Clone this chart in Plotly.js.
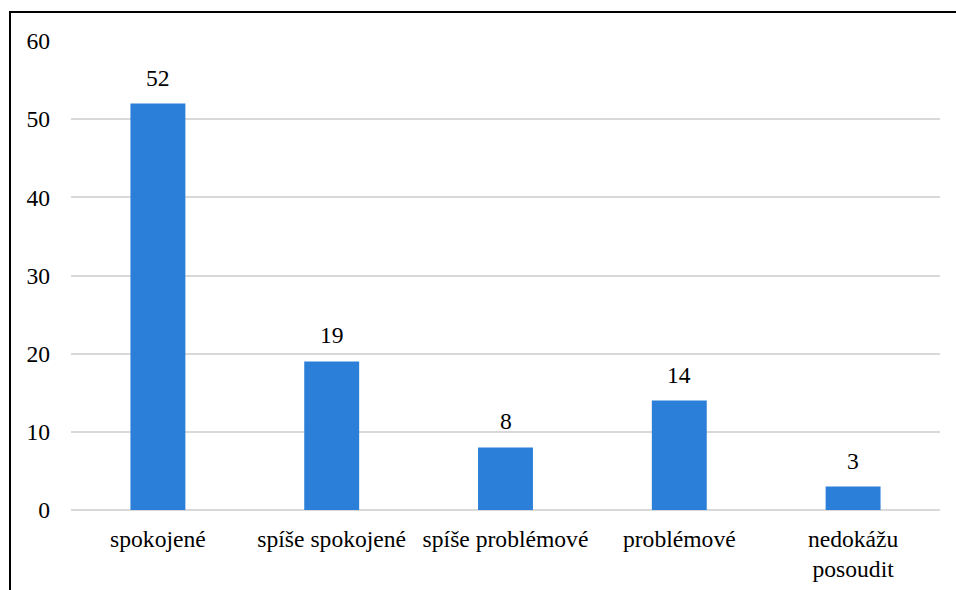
<!DOCTYPE html>
<html><head><meta charset="utf-8">
<script src="https://cdn.plot.ly/plotly-3.0.1.min.js"></script>
<style>
html,body{margin:0;padding:0;background:#fff;overflow:hidden;width:956px;height:590px}
#frame{position:absolute;left:9px;top:11px;width:945px;height:577px;border-left:2px solid #000;border-top:2px solid #000;pointer-events:none;z-index:5}
#chart{position:absolute;left:0;top:0;width:956px;height:590px}
</style></head>
<body>
<div id="chart"></div>
<div id="frame"></div>
<script>
const categories = ["spokojené", "spíše spokojené", "spíše problémové", "problémové", "nedokážu<br>posoudit"];
const values = [52, 19, 8, 14, 3];
const yTicks = [0, 10, 20, 30, 40, 50, 60];

const mkFont = () => ({family: "Liberation Serif", size: 23.6, color: "#000000"});

const annotations = categories.map((c, i) => ({
  x: c, y: values[i], text: String(values[i]), showarrow: false,
  xref: "x", yref: "y", yanchor: "bottom", yshift: 11, font: mkFont()
}));

Plotly.newPlot("chart", [{
  type: "bar", x: categories, y: values,
  marker: {color: "#2b7fd8"},
  width: 0.316, hoverinfo: "none"
}], {
  width: 956, height: 590,
  margin: {l: 71, r: 16, t: 41, b: 80},
  paper_bgcolor: "#fff", plot_bgcolor: "#fff",
  font: mkFont(), showlegend: false,
  xaxis: {type: "category", showgrid: false, zeroline: false, showline: false, ticks: "", ticklabelstandoff: 12, tickfont: mkFont(), automargin: false},
  yaxis: {range: [0, 60], tickvals: yTicks, showgrid: true, gridcolor: "#d9d9d9", gridwidth: 2, zeroline: true, zerolinecolor: "#d9d9d9", zerolinewidth: 2, showline: false, ticks: "", ticklabelstandoff: 20, tickfont: mkFont(), automargin: false},
  annotations: annotations
}, {displayModeBar: false, staticPlot: true});
</script>
</body></html>
